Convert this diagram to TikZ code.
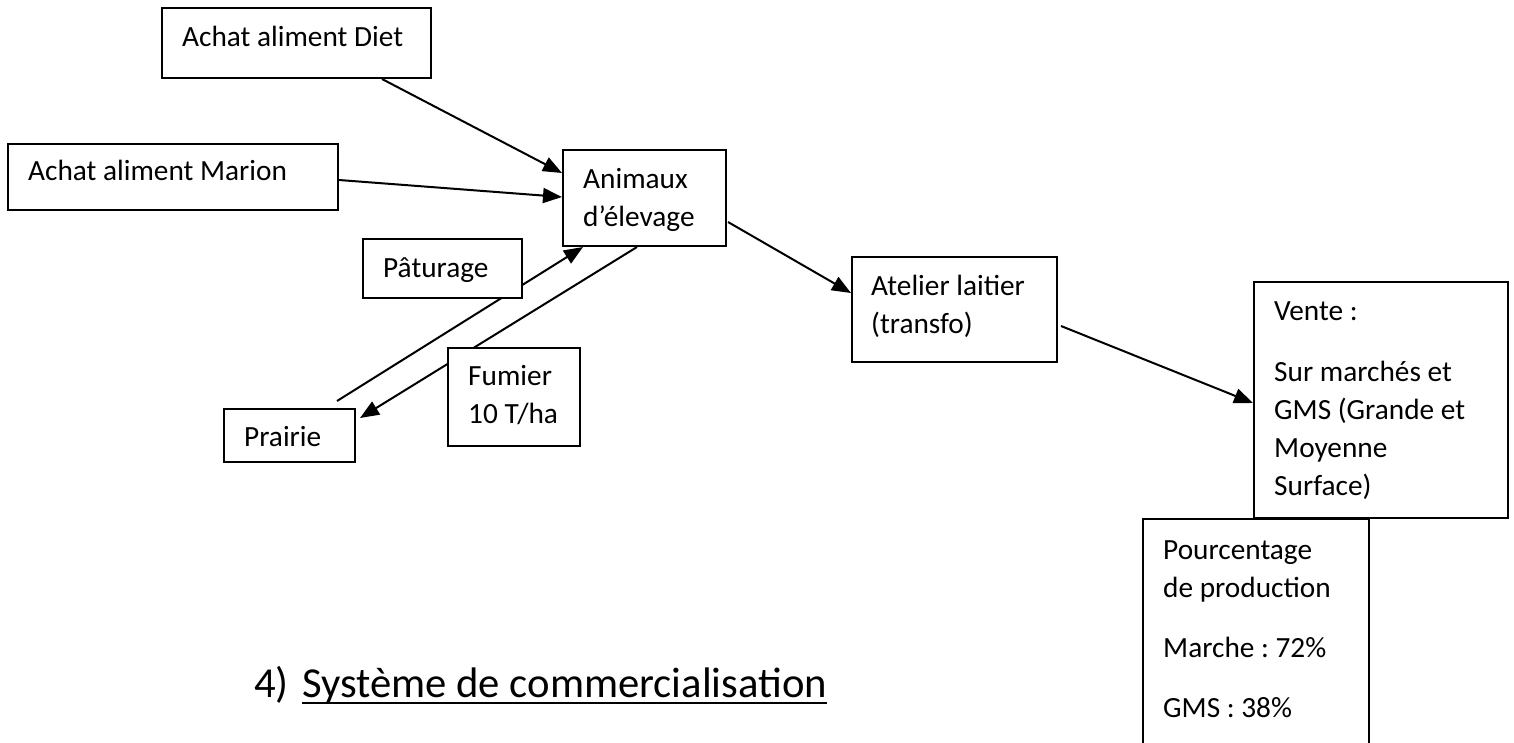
\documentclass[tikz,border=0pt]{standalone}
\usepackage{fontspec}
\setmainfont{Carlito}
\usetikzlibrary{arrows.meta,backgrounds}
\frenchspacing
\begin{document}
\begin{tikzpicture}[x=1pt,y=-1pt,
  box/.style={draw, line width=2pt, fill=white, anchor=north west, inner sep=0pt},
  txt/.style={anchor=base west, inner sep=0pt, align=left, font=\fontsize{29.3}{38}\selectfont\frenchspacing},
  ttl/.style={anchor=base west, inner sep=0pt, font=\fontsize{42.7}{51}\selectfont\frenchspacing},
  flow/.style={line width=2pt, -{Triangle[length=19pt,width=15pt]}}]
\useasboundingbox (0,0) rectangle (1514,742);

% boxes
\node[box, minimum width=269pt, minimum height=70pt]  (diet)    at (161,7)   {};
\node[box, minimum width=330pt, minimum height=66pt]  (marion)  at (7,143)   {};
\node[box, minimum width=163pt, minimum height=96pt]  (anim)    at (562,149) {};
\node[box, minimum width=159pt, minimum height=59pt]  (patu)    at (362,238) {};
\node[box, minimum width=131pt, minimum height=53pt]  (prairie) at (223,408) {};
\node[box, minimum width=132pt, minimum height=98pt]  (fumier)  at (447,347) {};
\node[box, minimum width=205pt, minimum height=105pt] (atelier) at (851,256) {};
\node[box, minimum width=254pt, minimum height=236pt] (vente)   at (1253,281) {};
\node[box, draw=none, minimum width=224pt, minimum height=224pt] (pct) at (1143,519) {};
\draw[line width=2pt] (pct.south west) -- (pct.north west) -- (pct.north east) -- (pct.south east);

% texts (base anchor = baseline of the last line)
\node[txt] (diet-t)    at (182,46)   {Achat aliment Diet};
\node[txt] (marion-t)  at (28,180)   {Achat aliment Marion};
\node[txt] (anim-t)    at (583,226)  {Animaux\\d’élevage};
\node[txt] (patu-t)    at (383,277)  {Pâturage};
\node[txt] (prairie-t) at (244,446)  {Prairie};
\node[txt] (fumier-t)  at (468,423)  {Fumier\\10 T/ha};
\node[txt] (atelier-t) at (871,333)  {Atelier laitier\\(transfo)};
\node[txt] (vente-t)   at (1274,495) {Vente :\\[23pt]Sur marchés et\\GMS (Grande et\\Moyenne\\Surface)};
\node[txt] (pct-t)     at (1163,717) {Pourcentage\\de production\\[22pt]Marche : 72\%\\[22pt]GMS : 38\%};

% title
\node[ttl] (num) at (254,697) {4)};
\node[ttl] (title) at (302,697) {Système de commercialisation};
\draw[line width=2.6pt] ([yshift=-6pt]title.base west) -- ([yshift=-6pt]title.base east);

% connectors
\begin{pgfonlayer}{background}
\draw[flow] ([xshift=221pt]diet.south west) -- ([yshift=-24pt]anim.north west);
\draw[flow] ([yshift=-37pt]marion.north east) -- ([yshift=-48pt]anim.north west);
\draw[flow] ([shift={(114pt,7pt)}]prairie.north west) -- ([xshift=21pt]anim.south west);
\draw[flow] ([xshift=75pt]anim.south west) -- ([shift={(4pt,-10pt)}]prairie.north east);
\draw[flow] ([shift={(1pt,-73pt)}]anim.north east) -- ([yshift=-37pt]atelier.north west);
\draw[flow] ([shift={(3pt,-70pt)}]atelier.north east) -- ([yshift=-122pt]vente.north west);
\end{pgfonlayer}
\end{tikzpicture}
\end{document}
